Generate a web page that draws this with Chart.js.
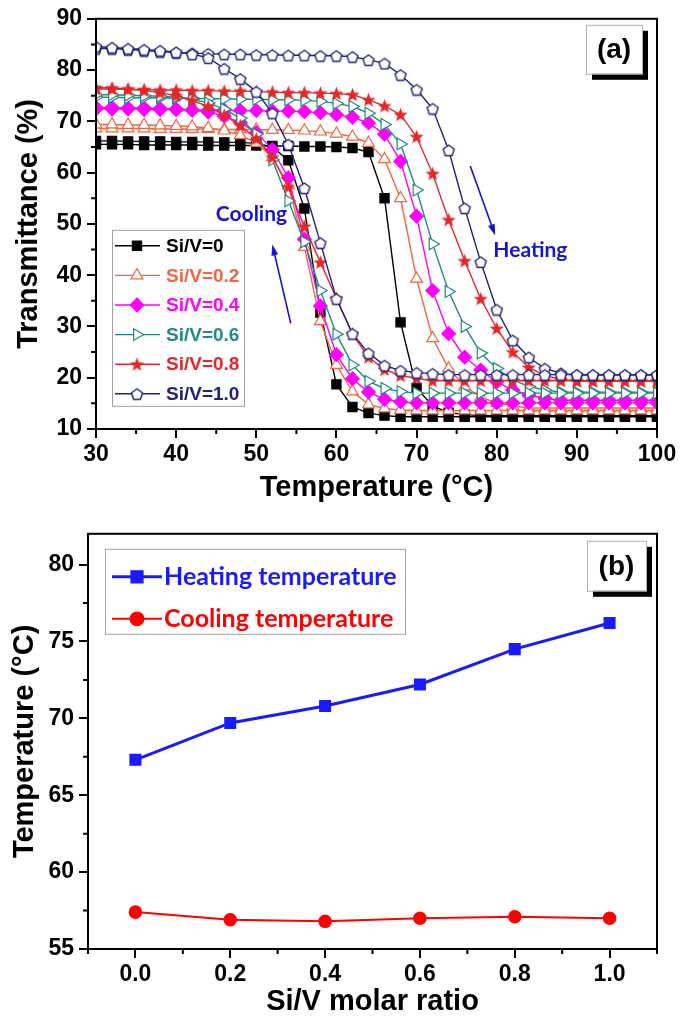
<!DOCTYPE html>
<html>
<head>
<meta charset="utf-8">
<script src="https://cdn.jsdelivr.net/npm/chart.js@4.4.1/dist/chart.umd.min.js"></script>
<style>
    body { margin: 0; background: #fff; width: 685px; height: 1023px; overflow: hidden; }
    .box { position: absolute; left: 0; width: 685px; }
</style>
</head>
<body>
<div class="box" style="top:0;height:515px"><canvas id="transChart"></canvas></div>
<div class="box" style="top:515px;height:508px"><canvas id="tempChart"></canvas></div>
<script>
// ---- panel (a): transmittance vs temperature, every 2 °C ----
const temps = [30, 32, 34, 36, 38, 40, 42, 44, 46, 48, 50, 52, 54, 56, 58, 60, 62, 64,
    66, 68, 70, 72, 74, 76, 78, 80, 82, 84, 86, 88, 90, 92, 94, 96, 98, 100];

const ratioLabels = ['Si/V=0', 'Si/V=0.2', 'Si/V=0.4', 'Si/V=0.6', 'Si/V=0.8', 'Si/V=1.0'];

const heat00 = [65.5, 65.5, 65.5, 65.4, 65.4, 65.4, 65.4, 65.3, 65.3, 65.3, 65.3, 65.2, 65.2, 65.1,
    65.1, 65.0, 64.8, 64.0, 55.0, 30.8, 18.0, 14.5, 13.2, 12.8,
    12.6, 12.6, 12.6, 12.6, 12.6, 12.6, 12.6, 12.6, 12.6, 12.6, 12.6, 12.6];
const cool00 = [66.2, 66.2, 66.1, 66.1, 66.1, 66.0, 66.0, 66.0, 65.9, 65.9,
    65.7, 65.0, 62.4, 53.0, 32.7, 18.7, 14.3, 13.1, 12.6,
    12.4, 12.4, 12.4, 12.4, 12.4, 12.4, 12.4, 12.4, 12.4, 12.4, 12.4, 12.4, 12.4, 12.4, 12.4, 12.4, 12.4];

const heat02 = [68.6, 68.6, 68.6, 68.6, 68.5, 68.5, 68.5, 68.5, 68.4, 68.4, 68.4, 68.3, 68.3, 68.2,
    68.0, 67.6, 67.0, 65.8, 62.6, 55.0, 39.3, 27.7, 21.8, 18.3, 16.2, 15.1, 14.5,
    14.1, 14.1, 14.1, 14.1, 14.1, 14.1, 14.1, 14.1, 14.1];
const cool02 = [69.4, 69.4, 69.3, 69.3, 69.2, 69.1, 69.0,
    68.7, 68.2, 67.3, 65.8, 63.0, 57.5, 45.5, 31.0, 22.5, 17.3, 14.8, 14.0, 13.7,
    13.6, 13.6, 13.6, 13.6, 13.6, 13.6, 13.6, 13.6, 13.6, 13.6, 13.6, 13.6, 13.6, 13.6, 13.6, 13.6];

const heat04 = [72.4, 72.4, 72.4, 72.3, 72.3, 72.3, 72.2, 72.2, 72.2, 72.1, 72.1, 72.0, 72.0, 71.9,
    71.7, 71.3, 70.8, 69.7, 67.5, 62.2, 51.5, 37.0, 28.6, 24.0, 21.5, 19.2, 17.6, 16.6, 16.0,
    15.6, 15.6, 15.6, 15.6, 15.6, 15.6, 15.6];
const cool04 = [72.7, 72.7, 72.6, 72.6, 72.5, 72.4, 72.2,
    71.8, 71.0, 69.8, 67.8, 64.5, 59.0, 47.0, 34.0, 24.5, 19.8, 17.2, 15.8, 15.3,
    15.1, 15.1, 15.1, 15.1, 15.1, 15.1, 15.1, 15.1, 15.1, 15.1, 15.1, 15.1, 15.1, 15.1, 15.1, 15.1];

const heat06 = [74.7, 74.7, 74.6, 74.6, 74.6, 74.5, 74.5, 74.4, 74.4, 74.3, 74.3, 74.2, 74.2, 74.1,
    73.9, 73.5, 72.9, 71.6, 69.4, 65.6, 56.6, 46.1, 36.8, 30.0, 24.8, 21.8, 19.6, 18.3, 17.6,
    17.2, 17.2, 17.2, 17.2, 17.2, 17.2, 17.2];
const cool06 = [75.2, 75.2, 75.1, 75.0, 74.9, 74.7,
    74.3, 73.6, 72.4, 70.6, 67.5, 62.5, 54.5, 46.5, 37.0, 28.5, 22.5, 19.3, 17.9, 17.3,
    17.0, 17.0, 17.0, 17.0, 17.0, 17.0, 17.0, 17.0, 17.0, 17.0, 17.0, 17.0, 17.0, 17.0, 17.0, 17.0];

const heat08 = [76.3, 76.3, 76.2, 76.2, 76.1, 76.1, 76.0, 76.0, 75.9, 75.9, 75.8, 75.7, 75.6, 75.6,
    75.5, 75.4, 75.2, 74.2, 73.0, 71.3, 67.0, 59.8, 50.8, 42.8, 35.4, 29.6, 25.0, 22.0, 20.4, 19.7,
    19.3, 19.3, 19.3, 19.3, 19.3, 19.3];
const cool08 = [76.6, 76.5, 76.3, 76.0, 75.6, 75.0, 74.1, 72.9, 71.2, 69.2, 66.6, 63.0, 57.2, 49.5,
    42.5, 35.5, 28.5, 24.0, 21.6, 20.4, 19.9,
    19.4, 19.4, 19.4, 19.4, 19.4, 19.4, 19.4, 19.4, 19.4, 19.4, 19.4, 19.4, 19.4, 19.4, 19.4];

const heat10 = [84.2, 84.2, 84.0, 83.8, 83.6, 83.4, 83.3, 83.2, 83.1, 83.1, 83.0, 83.0, 82.9, 82.9,
    82.8, 82.8, 82.6, 82.0, 81.3, 79.1, 76.2, 72.5, 64.4, 53.1, 42.6, 33.3, 27.3, 24.0, 21.8, 20.9,
    20.5, 20.5, 20.5, 20.5, 20.5, 20.5];
const cool10 = [84.6, 84.4, 84.2, 84.0, 83.8, 83.5, 83.1, 82.4, 80.3, 78.3, 75.8, 71.6, 65.5, 57.0,
    46.3, 35.4, 28.6, 24.8, 22.4, 21.4, 21.0, 20.8,
    20.6, 20.6, 20.6, 20.6, 20.6, 20.6, 20.6, 20.6, 20.6, 20.6, 20.6, 20.6, 20.6, 20.6];

const transTicksX = [30, 40, 50, 60, 70, 80, 90, 100];
const transTicksY = [10, 20, 30, 40, 50, 60, 70, 80, 90];

// ---- panel (b): transition temperatures ----
const ratios = [0, 0.2, 0.4, 0.6, 0.8, 1.0];
const heatingTemp = [67.3, 69.7, 70.8, 72.2, 74.5, 76.2];
const coolingTemp = [57.4, 56.9, 56.8, 57.0, 57.1, 57.0];
const ratioTicks = [0, 0.2, 0.4, 0.6, 0.8, 1.0];
const tempTicks = [55, 60, 65, 70, 75, 80];

const heatSeries = [heat00, heat02, heat04, heat06, heat08, heat10];
const coolSeries = [cool00, cool02, cool04, cool06, cool08, cool10];

const FONT = "'Liberation Sans', Arial, sans-serif";
const colors = ['#000000', '#ef6640', '#ff00ff', '#1e8c80', '#e8262a', '#22227e'];

// custom marker images (filled star, open pentagon)
function makeStar(size, color) {
    const c = document.createElement('canvas');
    c.width = c.height = size;
    const g = c.getContext('2d');
    g.fillStyle = color;
    g.beginPath();
    for (let i = 0; i < 10; i++) {
        const r = i % 2 ? size * 0.21 : size * 0.5;
        const a = -Math.PI / 2 + i * Math.PI / 5;
        g.lineTo(size / 2 + r * Math.cos(a), size / 2 + 0.5 + r * Math.sin(a));
    }
    g.closePath();
    g.fill();
    return c;
}
function makePentagon(size, color) {
    const c = document.createElement('canvas');
    c.width = c.height = size;
    const g = c.getContext('2d');
    g.fillStyle = '#fff';
    g.strokeStyle = color;
    g.lineWidth = 1.4;
    g.beginPath();
    const r = size / 2 - 1.2;
    for (let i = 0; i < 5; i++) {
        const a = -Math.PI / 2 + i * 2 * Math.PI / 5;
        g.lineTo(size / 2 + r * Math.cos(a), size / 2 + 0.8 + r * Math.sin(a));
    }
    g.closePath();
    g.fill();
    g.stroke();
    return c;
}

const markers = [
    { pointStyle: 'rect', radius: 6.5, rotation: 0, fill: colors[0] },
    { pointStyle: 'triangle', radius: 6.8, rotation: 0, fill: '#fff' },
    { pointStyle: 'rectRot', radius: 6.8, rotation: 0, fill: colors[2] },
    { pointStyle: 'triangle', radius: 6.8, rotation: 90, fill: '#fff' },
    { pointStyle: makeStar(15, colors[4]), radius: 7, rotation: 0, fill: colors[4] },
    { pointStyle: makePentagon(14, colors[5]), radius: 7, rotation: 0, fill: '#fff' }
];

function toPoints(xs, ys) {
    return xs.map((x, i) => ({ x: x, y: ys[i] }));
}

const transDatasets = [];
for (let i = 5; i >= 0; i--) {
    [coolSeries[i], heatSeries[i]].forEach(function (vals) {
        transDatasets.push({
            label: ratioLabels[i],
            data: toPoints(temps, vals),
            showLine: true,
            borderColor: colors[i],
            borderWidth: 1.4,
            backgroundColor: markers[i].fill,
            pointStyle: markers[i].pointStyle,
            pointRadius: markers[i].radius,
            pointRotation: markers[i].rotation,
            pointBorderWidth: 1.2,
            pointBorderColor: colors[i],
            pointBackgroundColor: markers[i].fill
        });
    });
}

function drawMarker(ctx, m, color, x, y) {
    ctx.save();
    ctx.translate(x, y);
    if (typeof m.pointStyle !== 'string') {
        ctx.drawImage(m.pointStyle, -m.pointStyle.width / 2, -m.pointStyle.height / 2);
        ctx.restore();
        return;
    }
    ctx.rotate(m.rotation * Math.PI / 180);
    ctx.fillStyle = m.fill;
    ctx.strokeStyle = color;
    ctx.lineWidth = 1.2;
    ctx.beginPath();
    const r = m.radius;
    if (m.pointStyle === 'rect') {
        const s = r * Math.SQRT1_2;
        ctx.rect(-s, -s, 2 * s, 2 * s);
    } else if (m.pointStyle === 'rectRot') {
        ctx.moveTo(0, -r); ctx.lineTo(r, 0); ctx.lineTo(0, r); ctx.lineTo(-r, 0);
        ctx.closePath();
    } else if (m.pointStyle === 'circle') {
        ctx.arc(0, 0, r, 0, Math.PI * 2);
    } else {
        ctx.moveTo(0, -r);
        ctx.lineTo(r * Math.sin(Math.PI * 2 / 3), -r * Math.cos(Math.PI * 2 / 3));
        ctx.lineTo(-r * Math.sin(Math.PI * 2 / 3), -r * Math.cos(Math.PI * 2 / 3));
        ctx.closePath();
    }
    ctx.fill();
    ctx.stroke();
    ctx.restore();
}

function drawArrow(ctx, x1, y1, x2, y2, color) {
    const ang = Math.atan2(y2 - y1, x2 - x1);
    ctx.save();
    ctx.strokeStyle = color;
    ctx.fillStyle = color;
    ctx.lineWidth = 1.6;
    ctx.beginPath();
    ctx.moveTo(x1, y1);
    ctx.lineTo(x2 - 8 * Math.cos(ang), y2 - 8 * Math.sin(ang));
    ctx.stroke();
    ctx.translate(x2, y2);
    ctx.rotate(ang);
    ctx.beginPath();
    ctx.moveTo(0, 0);
    ctx.lineTo(-11, -3.5);
    ctx.lineTo(-11, 3.5);
    ctx.closePath();
    ctx.fill();
    ctx.restore();
}

function panelLabel(ctx, text, x, y, w, h) {
    ctx.save();
    ctx.fillStyle = '#000';
    ctx.fillRect(x + 6, y + 6, w, h);
    ctx.fillStyle = '#fff';
    ctx.fillRect(x, y, w, h);
    ctx.strokeStyle = '#b0b0b0';
    ctx.lineWidth = 1;
    ctx.strokeRect(x + 0.5, y + 0.5, w, h);
    ctx.fillStyle = '#000';
    ctx.font = 'bold 28px ' + FONT;
    ctx.textAlign = 'center';
    ctx.textBaseline = 'middle';
    ctx.fillText(text, x + w / 2, y + h / 2 + 1);
    ctx.restore();
}

// frame on all four sides + short minor ticks
const framePlugin = {
    id: 'frame',
    afterDraw(chart, args, opts) {
        const ctx = chart.ctx, a = chart.chartArea;
        ctx.save();
        ctx.strokeStyle = '#000';
        ctx.lineWidth = 2;
        ctx.strokeRect(a.left, a.top, a.right - a.left, a.bottom - a.top);
        ctx.beginPath();
        (opts.minorX || []).forEach(v => {
            const px = chart.scales.x.getPixelForValue(v);
            ctx.moveTo(px, a.bottom); ctx.lineTo(px, a.bottom + 5);
        });
        (opts.minorY || []).forEach(v => {
            const py = chart.scales.y.getPixelForValue(v);
            ctx.moveTo(a.left, py); ctx.lineTo(a.left - 5, py);
        });
        ctx.stroke();
        ctx.restore();
    }
};

// legend, annotations and panel label of (a)
const transDecor = {
    id: 'transDecor',
    afterDraw(chart) {
        const ctx = chart.ctx, a = chart.chartArea;
        const sx = chart.scales.x, sy = chart.scales.y;
        ctx.save();
        // legend box
        const lx = a.left + 16, ly = a.top + 211;
        ctx.fillStyle = '#fff';
        ctx.fillRect(lx, ly, 132, 176);
        ctx.strokeStyle = '#a0a0a0';
        ctx.lineWidth = 1;
        ctx.strokeRect(lx + 0.5, ly + 0.5, 132, 176);
        ctx.font = 'bold 19px ' + FONT;
        ctx.textBaseline = 'middle';
        ctx.textAlign = 'left';
        ratioLabels.forEach((lab, i) => {
            const y = ly + 16 + i * 29.6;
            ctx.strokeStyle = colors[i];
            ctx.lineWidth = 1.4;
            ctx.beginPath();
            ctx.moveTo(lx + 3, y); ctx.lineTo(lx + 48, y);
            ctx.stroke();
            drawMarker(ctx, markers[i], colors[i], lx + 25, y);
            ctx.fillStyle = colors[i];
            ctx.fillText(lab, lx + 54, y + 1);
        });
        // Cooling / Heating annotations
        const blue = '#1515d0';
        ctx.font = 'bold 21px Lato, sans-serif';
        ctx.fillStyle = blue;
        ctx.textAlign = 'center';
        ctx.fillText('Cooling', sx.getPixelForValue(49.4), sy.getPixelForValue(51.9));
        ctx.fillText('Heating', sx.getPixelForValue(84.2), sy.getPixelForValue(44.8));
        drawArrow(ctx, sx.getPixelForValue(54.3), sy.getPixelForValue(30.6),
            sx.getPixelForValue(52.0), sy.getPixelForValue(46.0), blue);
        drawArrow(ctx, sx.getPixelForValue(76.7), sy.getPixelForValue(61.3),
            sx.getPixelForValue(79.8), sy.getPixelForValue(47.8), blue);
        ctx.restore();
        panelLabel(ctx, '(a)', a.right - 71, a.top + 6, 56, 49);
    }
};

// legend and panel label of (b)
const tempDecor = {
    id: 'tempDecor',
    afterDraw(chart) {
        const ctx = chart.ctx, a = chart.chartArea;
        const lx = a.left + 17, ly = a.top + 15;
        ctx.save();
        ctx.fillStyle = '#fff';
        ctx.fillRect(lx, ly, 300, 85);
        ctx.strokeStyle = '#a0a0a0';
        ctx.lineWidth = 1;
        ctx.strokeRect(lx + 0.5, ly + 0.5, 300, 85);
        ctx.font = 'bold 25px Lato, sans-serif';
        ctx.textBaseline = 'middle';
        chart.data.datasets.forEach((ds, i) => {
            const y = ly + 28 + i * 42;
            ctx.strokeStyle = ds.borderColor;
            ctx.lineWidth = ds.borderWidth;
            ctx.beginPath();
            ctx.moveTo(lx + 7, y); ctx.lineTo(lx + 57, y);
            ctx.stroke();
            drawMarker(ctx, { pointStyle: ds.pointStyle, radius: ds.pointRadius, rotation: 0, fill: ds.borderColor },
                ds.borderColor, lx + 32, y);
            ctx.fillStyle = ds.borderColor;
            ctx.fillText(ds.label, lx + 59, y);
        });
        ctx.restore();
        panelLabel(ctx, '(b)', a.right - 70, a.top + 7, 59, 50);
    }
};

function axisX(min, max, ticks, title, h, padBottom) {
    return {
        type: 'linear', min: min, max: max,
        afterBuildTicks: s => { s.ticks = ticks.map(v => ({ value: v })); },
        afterFit: s => { s.height = h; },
        grid: { drawOnChartArea: false, color: '#000', lineWidth: 2, tickLength: 9, tickWidth: 2 },
        border: { color: '#000', width: 2 },
        ticks: {
            color: '#000', padding: 3, maxRotation: 0, autoSkip: false,
            font: { family: FONT, weight: 'bold', size: 23 },
            callback: v => (max < 5 ? v.toFixed(1) : v)
        },
        title: {
            display: true, text: title, color: '#000',
            font: { family: FONT, weight: 'bold', size: 29 },
            padding: { top: 0, bottom: padBottom }
        }
    };
}

function axisY(min, max, ticks, title, w, padTop) {
    return {
        type: 'linear', min: min, max: max,
        afterBuildTicks: s => { s.ticks = ticks.map(v => ({ value: v })); },
        afterFit: s => { s.width = w; },
        grid: { drawOnChartArea: false, color: '#000', lineWidth: 2, tickLength: 9, tickWidth: 2 },
        border: { color: '#000', width: 2 },
        ticks: {
            color: '#000', padding: 5, autoSkip: false,
            font: { family: FONT, weight: 'bold', size: 23 }
        },
        title: {
            display: true, text: title, color: '#000',
            font: { family: FONT, weight: 'bold', size: 29 },
            padding: { top: padTop, bottom: 0 }
        }
    };
}

document.addEventListener('DOMContentLoaded', function () {
    new Chart(document.getElementById('transChart'), {
        type: 'scatter',
        data: { datasets: transDatasets },
        options: {
            responsive: true,
            maintainAspectRatio: false,
            animation: false,
            layout: { padding: { top: 17, right: 28, left: 0, bottom: 0 } },
            plugins: {
                legend: { display: false },
                tooltip: { enabled: false },
                frame: {
                    minorX: [35, 45, 55, 65, 75, 85, 95],
                    minorY: [15, 25, 35, 45, 55, 65, 75, 85]
                }
            },
            scales: {
                x: axisX(30, 100, transTicksX, 'Temperature (°C)', 86, 10),
                y: axisY(10, 90, transTicksY, 'Transmittance (%)', 96, 12)
            }
        },
        plugins: [framePlugin, transDecor]
    });

    new Chart(document.getElementById('tempChart'), {
        type: 'scatter',
        data: {
            datasets: [{
                label: 'Heating temperature',
                data: toPoints(ratios, heatingTemp),
                showLine: true,
                borderColor: '#1a1aff',
                backgroundColor: '#1a1aff',
                borderWidth: 3,
                pointStyle: 'rect',
                pointRadius: 8.5,
                pointBorderWidth: 0
            }, {
                label: 'Cooling temperature',
                data: toPoints(ratios, coolingTemp),
                showLine: true,
                borderColor: '#ff0000',
                backgroundColor: '#ff0000',
                borderWidth: 2,
                pointStyle: 'circle',
                pointRadius: 6.8,
                pointBorderWidth: 0
            }]
        },
        options: {
            responsive: true,
            maintainAspectRatio: false,
            animation: false,
            layout: { padding: { top: 15, right: 28, left: 0, bottom: 0 } },
            plugins: {
                legend: { display: false },
                tooltip: { enabled: false },
                frame: {
                    minorX: [-0.1, 0.1, 0.3, 0.5, 0.7, 0.9, 1.1],
                    minorY: [57.5, 62.5, 67.5, 72.5, 77.5]
                }
            },
            scales: {
                x: axisX(-0.1, 1.1, ratioTicks, 'Si/V molar ratio', 74, 4),
                y: axisY(55, 82, tempTicks, 'Temperature (°C)', 88, 8)
            }
        },
        plugins: [framePlugin, tempDecor]
    });
});
</script>
</body>
</html>
